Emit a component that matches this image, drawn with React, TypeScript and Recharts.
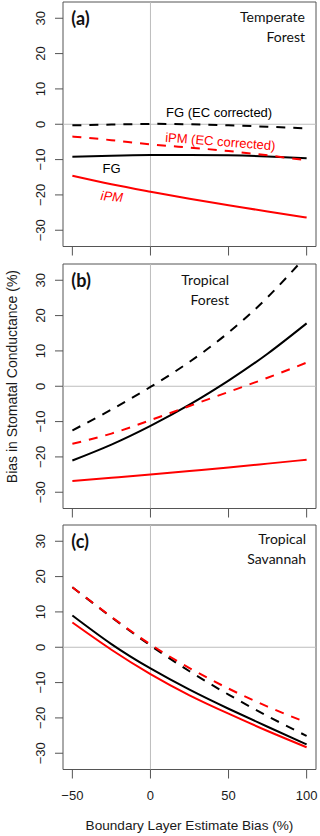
import React from 'react';
import { LineChart, Line, XAxis, YAxis, ReferenceLine, ReferenceArea, Customized } from 'recharts';

// x values of sampled points (Boundary Layer Estimate Bias, %)
const XS = [-50, -25, 0, 25, 50, 75, 100];
const X_TICKS = [-50, 0, 50, 100];
const Y_TICKS = [-30, -20, -10, 0, 10, 20, 30];

// (a) Temperate Forest
const fgA = [-9.2, -8.9, -8.7, -8.7, -8.8, -9.1, -9.6];
const fgEcA = [-0.3, -0.1, 0.1, 0.0, -0.3, -0.7, -1.2];
const ipmA = [-14.6, -17.0, -19.1, -21.1, -22.9, -24.7, -26.4];
const ipmEcA = [-3.5, -4.5, -5.7, -6.6, -7.6, -8.8, -10.2];

// (b) Tropical Forest
const fgB = [-21.0, -16.5, -11.2, -5.2, 1.6, 9.2, 17.8];
const fgEcB = [-12.5, -6.6, -0.2, 6.9, 15.2, 25.2, 37.0];
const ipmB = [-26.8, -25.9, -25.0, -24.0, -23.0, -21.9, -20.8];
const ipmEcB = [-16.3, -13.4, -9.6, -5.6, -1.6, 2.4, 6.7];

// (c) Tropical Savannah
const fgC = [9.0, 0.9, -6.0, -12.0, -17.4, -22.5, -27.5];
const fgEcC = [17.0, 8.5, 0.5, -6.8, -13.4, -19.5, -25.1];
const ipmC = [7.0, -0.7, -7.6, -13.6, -18.8, -23.7, -28.3];
const ipmEcC = [17.0, 8.6, 0.8, -5.9, -11.7, -16.8, -21.3];

const X_DOMAIN: [number, number] = [-56, 106];
const Y_DOMAIN: [number, number] = [-34.6, 34.6];

const ARIAL = 'Liberation Sans';
const HUMAN = 'Lato';
const RED = '#ff0000';
const BOX = '#555555';
const GRID = '#bdbdbd';

const W = 320;
const MT = 2;
const PLOT_H = 244.5;

const fmt = (v: number) => (v < 0 ? '\u2212' + Math.abs(v) : String(v));

function build(fg: number[], fgEc: number[], ipm: number[], ipmEc: number[]) {
  return XS.map((x, i) => ({ x, fg: fg[i], fgEc: fgEc[i], ipm: ipm[i], ipmEc: ipmEc[i] }));
}

const YTick = (props: any) => {
  const { y, payload } = props;
  return (
    <text x={45} y={y} transform={`rotate(-90 45 ${y})`} textAnchor="middle" fontSize={13} style={{ fontFamily: ARIAL }} fill="#1a1a1a">
      {fmt(payload.value)}
    </text>
  );
};

const EmptyTick = () => <g />;

const XTickLabel = (props: any) => {
  const { x, payload } = props;
  return (
    <text x={x} y={MT + PLOT_H + 30.7} textAnchor="middle" fontSize={13} style={{ fontFamily: ARIAL }} fill="#1a1a1a">
      {fmt(payload.value)}
    </text>
  );
};

type PanelProps = {
  data: any[];
  top: number;
  bottomAxis: boolean;
  overlay: () => React.ReactNode;
};

function Panel({ data, top, bottomAxis, overlay }: PanelProps) {
  const xh = bottomAxis ? 67 : 14;
  const h = MT + PLOT_H + xh;
  const Overlay = () => <g>{overlay()}</g>;
  return (
    <div style={{ position: 'absolute', left: 0, top, width: W, height: h }}>
      <LineChart width={W} height={h} data={data} margin={{ top: MT, right: 4, bottom: 0, left: 0 }}>
        <XAxis
          dataKey="x"
          type="number"
          domain={X_DOMAIN}
          ticks={X_TICKS}
          allowDataOverflow
          height={xh}
          axisLine={false}
          tickSize={9}
          tickLine={{ stroke: BOX, strokeWidth: 1 }}
          tick={bottomAxis ? <XTickLabel /> : <EmptyTick />}
          interval={0}
        />
        <YAxis
          type="number"
          domain={Y_DOMAIN}
          ticks={Y_TICKS}
          allowDataOverflow
          width={63}
          axisLine={false}
          tickSize={8}
          tickLine={{ stroke: BOX, strokeWidth: 1 }}
          tick={<YTick />}
          interval={0}
        />
        <ReferenceLine x={0} stroke={GRID} strokeWidth={1} />
        <ReferenceLine y={0} stroke={GRID} strokeWidth={1} />
        <Line dataKey="fg" type="natural" stroke="#000" strokeWidth={2} dot={false} activeDot={false} isAnimationActive={false} />
        <Line dataKey="ipm" type="natural" stroke={RED} strokeWidth={2} dot={false} activeDot={false} isAnimationActive={false} />
        <Line dataKey="fgEc" type="natural" stroke="#000" strokeWidth={2} strokeDasharray="9 8" dot={false} activeDot={false} isAnimationActive={false} />
        <Line dataKey="ipmEc" type="natural" stroke={RED} strokeWidth={2} strokeDasharray="9 8" dot={false} activeDot={false} isAnimationActive={false} />
        <ReferenceArea x1={X_DOMAIN[0]} x2={X_DOMAIN[1]} y1={Y_DOMAIN[0]} y2={Y_DOMAIN[1]} fill="none" fillOpacity={0} stroke={BOX} strokeWidth={1} ifOverflow="visible" />
        <Customized component={Overlay} />
      </LineChart>
    </div>
  );
}

const panelLabel = (t: string, y: number) => (
  <text x={71.3} y={y} fontSize={18} fontWeight="bold" style={{ fontFamily: HUMAN }} fill="#111">{t}</text>
);

const biomeLabel = (lines: string[], x: number, ys: number[]) =>
  lines.map((l, i) => (
    <text key={l} x={x} y={ys[i]} textAnchor="end" fontSize={14} style={{ fontFamily: HUMAN }} fill="#111">{l}</text>
  ));

export default function App() {
  const dataA = build(fgA, fgEcA, ipmA, ipmEcA);
  const dataB = build(fgB, fgEcB, ipmB, ipmEcB);
  const dataC = build(fgC, fgEcC, ipmC, ipmEcC);
  return (
    <div style={{ position: 'absolute', left: 0, top: 0, width: 320, height: 836, background: '#fff', overflow: 'hidden' }}>
      <Panel
        data={dataA}
        top={0.2}
        bottomAxis={false}
        overlay={() => (
          <>
            {panelLabel('(a)', 24.5)}
            {biomeLabel(['Temperate', 'Forest'], 305, [21.7, 41.7])}
            <text x={166} y={116.5} fontSize={13} style={{ fontFamily: ARIAL }} fill="#000">FG (EC corrected)</text>
            <text x={220} y={146} textAnchor="middle" transform="rotate(4.5 220 146)" fontSize={13} style={{ fontFamily: ARIAL }} fill={RED}>iPM (EC corrected)</text>
            <text x={102.5} y={172.5} fontSize={13} style={{ fontFamily: ARIAL }} fill="#000">FG</text>
            <text x={111.5} y={201} textAnchor="middle" transform="rotate(5 111.5 201)" fontSize={13} style={{ fontFamily: ARIAL, fontStyle: 'italic' }} fill={RED}>iPM</text>
          </>
        )}
      />
      <Panel
        data={dataB}
        top={262.4}
        bottomAxis={false}
        overlay={() => (
          <>
            {panelLabel('(b)', 24.6)}
            {biomeLabel(['Tropical', 'Forest'], 229, [23.3, 42.6])}
            <text x={17} y={114.6} transform="rotate(-90 17 114.6)" textAnchor="middle" fontSize={14} style={{ fontFamily: ARIAL }} fill="#1a1a1a">
              Bias in Stomatal Conductance (%)
            </text>
          </>
        )}
      />
      <Panel
        data={dataC}
        top={522.8}
        bottomAxis={true}
        overlay={() => (
          <>
            {panelLabel('(c)', 24.7)}
            {biomeLabel(['Tropical', 'Savannah'], 306, [21.2, 40.5])}
            <text x={189.5} y={307.2} textAnchor="middle" fontSize={13.6} style={{ fontFamily: ARIAL }} fill="#1a1a1a">
              Boundary Layer Estimate Bias (%)
            </text>
          </>
        )}
      />
    </div>
  );
}
